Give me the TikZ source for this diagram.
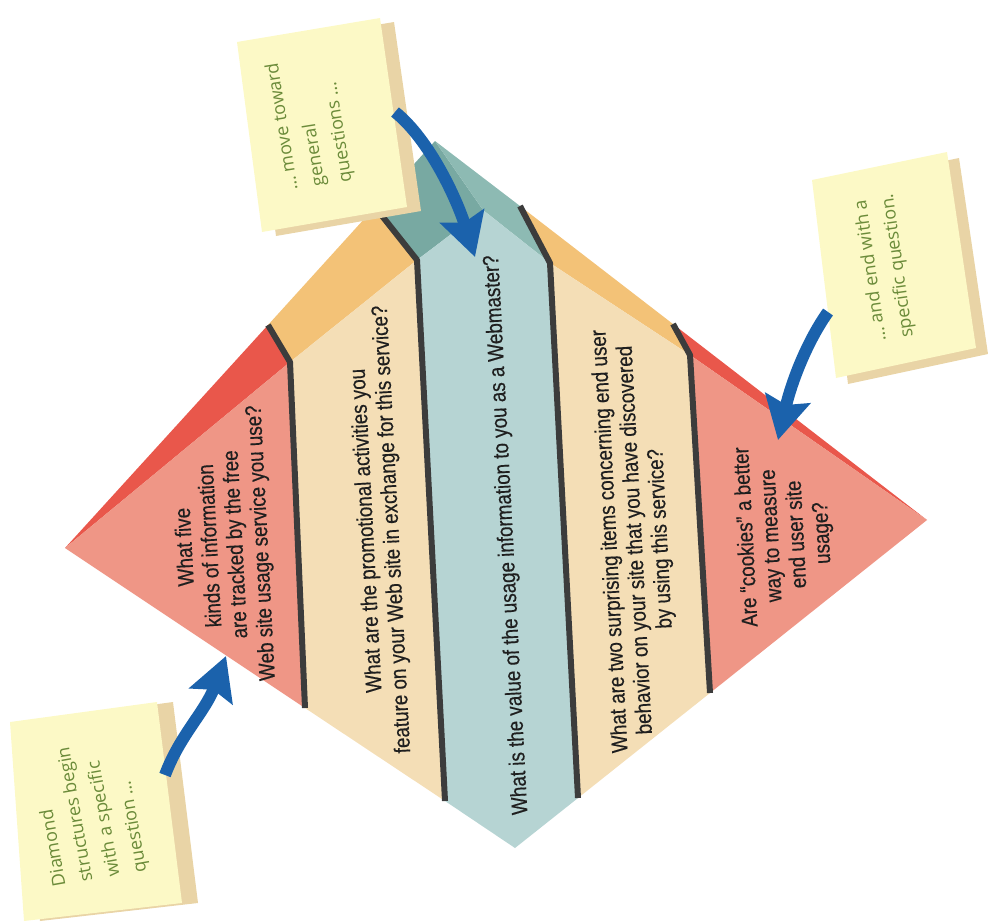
\documentclass[tikz,border=0pt]{standalone}
\usepackage{fontspec}
\usepackage{tikz}
\usetikzlibrary{arrows.meta}
\newfontfamily\bandfont[FakeStretch=0.84, FakeBold=0.4]{Liberation Sans}
\newfontfamily\notefont{Open Sans}
\definecolor{redtop}{HTML}{E9574B}
\definecolor{redfront}{HTML}{EF9686}
\definecolor{orangetop}{HTML}{F3C277}
\definecolor{orangefront}{HTML}{F4DEB6}
\definecolor{tealtopA}{HTML}{78A9A2}
\definecolor{tealtopB}{HTML}{8DBAB3}
\definecolor{tealfront}{HTML}{B6D4D3}
\definecolor{divgray}{HTML}{3C3C3C}
\definecolor{noteyellow}{HTML}{FCF9C6}
\definecolor{notetan}{HTML}{E9D4A6}
\definecolor{notegreen}{HTML}{6B8B3A}
\definecolor{arrowblue}{HTML}{1B62AC}

\begin{document}
\begin{tikzpicture}[x=0.75pt, y=-0.75pt,
    band/.style={font=\bandfont\fontsize{16.8}{19}\selectfont, text=black!88, align=center, rotate=93},
    note/.style={font=\notefont\fontsize{13.5}{20.5}\selectfont, text=notegreen, align=left, inner sep=0pt, anchor=north west},
    divider/.style={draw=divgray, line width=4.5pt, line join=round},
    bluearrow/.style={draw=arrowblue, line width=9pt, -{Stealth[length=32pt, width=34pt, inset=5pt]}}]
    \useasboundingbox (0,0) rectangle (988,921);
    \coordinate (L) at (65,548);
    \coordinate (T) at (435,141);
    \coordinate (R) at (927,520);
    \coordinate (B) at (515,848);
    \coordinate (apex) at (483,210);
    \foreach \n/\top/\mid/\bot in {1/{268,325}/{290,362}/{305,708}, 2/{375,207}/{417,260}/{445,801},
        3/{520,206}/{550,263}/{578,798}, 4/{673,324}/{690,355}/{710,693}} {
        \coordinate (t\n) at (\top);
        \coordinate (m\n) at (\mid);
        \coordinate (b\n) at (\bot);
    }
    \fill[redtop] (L) -- (t1) -- (m1) -- cycle;
    \fill[redfront] (L) -- (m1) -- (b1) -- cycle;
    \fill[orangetop] (t1) -- (t2) -- (m2) -- (m1) -- cycle;
    \fill[orangefront] (m1) -- (m2) -- (b2) -- (b1) -- cycle;
    \fill[tealtopA] (t2) -- (T) -- (apex) -- (m2) -- cycle;
    \fill[tealtopB] (T) -- (t3) -- (m3) -- (apex) -- cycle;
    \fill[tealfront] (m2) -- (apex) -- (m3) -- (b3) -- (B) -- (b2) -- cycle;
    \fill[orangetop] (t3) -- (t4) -- (m4) -- (m3) -- cycle;
    \fill[orangefront] (m3) -- (m4) -- (b4) -- (b3) -- cycle;
    \fill[redtop] (t4) -- (R) -- (m4) -- cycle;
    \fill[redfront] (m4) -- (R) -- (b4) -- cycle;
    \foreach \n in {1,2,3,4}
        \draw[divider] (t\n) -- (m\n) -- (b\n);

    \node[band] (q1) at (224,545) {What five\\kinds of information\\are tracked by the free\\Web site usage service you use?};
    \node[band] (q2) at (380,530) {What are the promotional activities you\\feature on your Web site in exchange for this service?};
    \node[band] (q3) at (507,535) {What is the value of the usage information to you as a Webmaster?};
    \node[band] (q4) at (636,540) {What are two surprising items concerning end user\\behavior on your site that you have discovered\\by using this service?};
    \node[band] (q5) at (785,535) {Are “cookies” a better\\way to measure\\end user site\\usage?};

    \fill[notetan] (251,46) -- (394,22) -- (421,211) -- (276,236) -- cycle;
    \fill[noteyellow] (237,42) -- (380,18) -- (407,207) -- (262,232) -- cycle;
    \fill[notetan] (824,186) -- (959,158) -- (988,354) -- (848,384) -- cycle;
    \fill[noteyellow] (812,180) -- (947,152) -- (976,348) -- (836,378) -- cycle;
    \fill[notetan] (26,722) -- (173,702) -- (198,903) -- (40,921) -- cycle;
    \fill[noteyellow] (10,722) -- (157,702) -- (182,903) -- (24,921) -- cycle;

    \node[note, rotate=99] (n1) at (284,192) {\dots\ move toward\\general\\questions \dots};
    \node[note, rotate=98] (n2) at (872,343) {\dots\ and end with a\\specific question.};
    \node[note, rotate=100] (n3) at (52,888) {Diamond\\structures begin\\with a specific\\question \dots};

    \coordinate (a1s) at (395,112);
    \coordinate (a1e) at (475,257);
    \coordinate (a2s) at (828,312);
    \coordinate (a2e) at (778,440);
    \coordinate (a3s) at (165,775);
    \coordinate (a3e) at (226,656);
    \draw[bluearrow] (a1s) .. controls (430,140) and (457,200) .. (a1e);
    \draw[bluearrow] (a2s) .. controls (808,340) and (792,380) .. (a2e);
    \draw[bluearrow] (a3s) .. controls (180,735) and (205,712) .. (a3e);
\end{tikzpicture}
\end{document}
